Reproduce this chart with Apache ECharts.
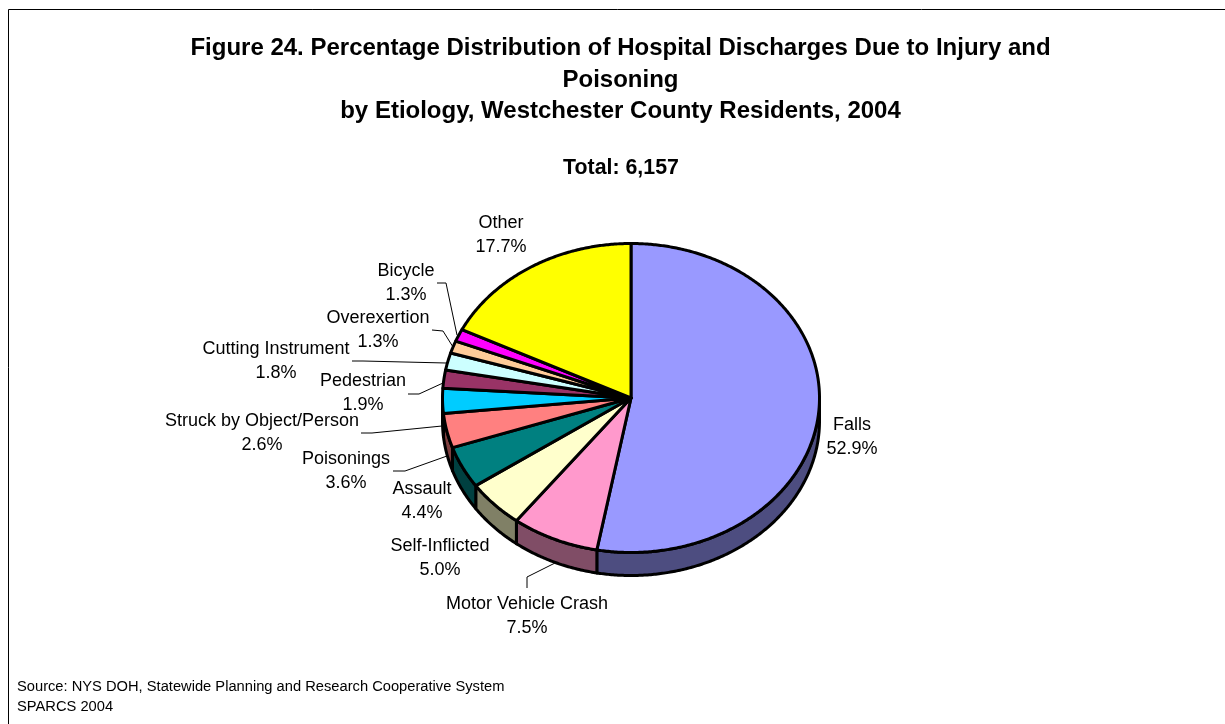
<!DOCTYPE html>
<html>
<head>
<meta charset="utf-8">
<style>html,body{margin:0;padding:0;background:#fff}#c{width:1225px;height:724px}</style>
<script src="https://cdn.jsdelivr.net/npm/echarts@6/dist/echarts.min.js"></script>
</head>
<body>
<div id="c"></div>
<script>
const categories = ['Falls','Motor Vehicle Crash','Self-Inflicted','Assault','Poisonings','Struck by Object/Person','Pedestrian','Cutting Instrument','Overexertion','Bicycle','Other'];
const values = [52.9,7.5,5.0,4.4,3.6,2.6,1.9,1.8,1.3,1.3,17.7];
const topColors = ['#9999FF','#FF99CC','#FFFFCC','#008080','#FF8080','#00CCFF','#993366','#CCFFFF','#FFCC99','#FF00FF','#FFFF00'];
const sideColors = ['#4D4D80','#804D66','#808066','#004040','#804040','#006680','#4D1A33','#668080','#806650','#800080','#808000'];

// Layout only (pixels): pie geometry, label centres, leader-line routes
const PIE = {cx:631, cy:398, rx:188.5, ry:154.5, depth:23};
const FONT = 'Liberation Sans, Arial, sans-serif';
const labelAt = [[852,437],[527,616],[440,558],[422,501],[346,471],[262,433],[363,393],[276,361],[378,330],[406,283],[501,235]];
const leaders = [null,[[527,588],[527,577],[555,563]],null,null,[[393,471],[405,471],[447,456]],[[361,433],[372,433],[442,426]],[[408,394],[419,394],[443,383]],[[352,361],[363,361],[446,363]],[[432,330],[443,331],[453,347]],[[437,283],[446,283],[457,335]],null];

const total = values.reduce((a,b)=>a+b,0);
const cum = []; values.reduce((a,v,i)=>{cum[i]=a;return a+v;},0);
const pt = (deg,dy)=>{const t=deg*Math.PI/180;return [PIE.cx+PIE.rx*Math.sin(t),PIE.cy-PIE.ry*Math.cos(t)+(dy||0)];};
const arc = (a,b,dy)=>{const n=Math.max(2,Math.ceil((b-a)*2));const o=[];for(let k=0;k<=n;k++)o.push(pt(a+(b-a)*k/n,dy));return o;};

function renderItem(params, api){
  const i = params.dataIndex, v = api.value(0);
  const a = cum[i]/total*360, b = a+v/total*360;
  const children = [];
  const wa = Math.max(a,90), wb = Math.min(b,270);
  if (wb>wa){
    children.push({type:'polygon',z2:1,shape:{points:arc(wa,wb,0).concat(arc(wa,wb,PIE.depth).reverse())},
      style:{fill:sideColors[i],stroke:'#000',lineWidth:3,lineJoin:'round'}});
  }
  children.push({type:'polygon',z2:5,shape:{points:[[PIE.cx,PIE.cy]].concat(arc(a,b,0))},
    style:{fill:topColors[i],stroke:'#000',lineWidth:3,lineJoin:'round'}});
  if (leaders[i]) children.push({type:'polyline',z2:8,shape:{points:leaders[i]},style:{fill:null,stroke:'#000',lineWidth:1}});
  children.push({type:'text',z2:10,x:labelAt[i][0],y:labelAt[i][1],
    style:{text:categories[i]+'\n'+v.toFixed(1)+'%',font:'18px '+FONT,fill:'#000',align:'center',verticalAlign:'middle',lineHeight:24}});
  return {type:'group',children};
}

const chart = echarts.init(document.getElementById('c'),null,{renderer:'canvas'});
chart.setOption({
  animation:false,
  backgroundColor:'#fff',
  title:[
    {text:'Figure 24. Percentage Distribution of Hospital Discharges Due to Injury and\nPoisoning\nby Etiology, Westchester County Residents, 2004',
     left:620.5,top:33,padding:0,textAlign:'center',textStyle:{fontFamily:FONT,fontSize:24,fontWeight:'bold',color:'#000',lineHeight:31.5}},
    {text:'Total: 6,157',left:621,top:158,padding:0,textAlign:'center',textStyle:{fontFamily:FONT,fontSize:21.33,fontWeight:'bold',color:'#000'}},
    {text:'Source: NYS DOH, Statewide Planning and Research Cooperative System\nSPARCS 2004',left:17,top:677,padding:0,textStyle:{fontFamily:FONT,fontSize:14.7,fontWeight:'normal',color:'#000',lineHeight:20}}
  ],
  graphic:[{type:'rect',silent:true,shape:{x:8.5,y:9.5,width:1300,height:800},style:{fill:null,stroke:'#000',lineWidth:1}}],
  series:[{type:'custom',coordinateSystem:'none',renderItem,
    data:values.map((v,i)=>({name:categories[i],value:[v]}))}]
});
</script>
</body>
</html>
